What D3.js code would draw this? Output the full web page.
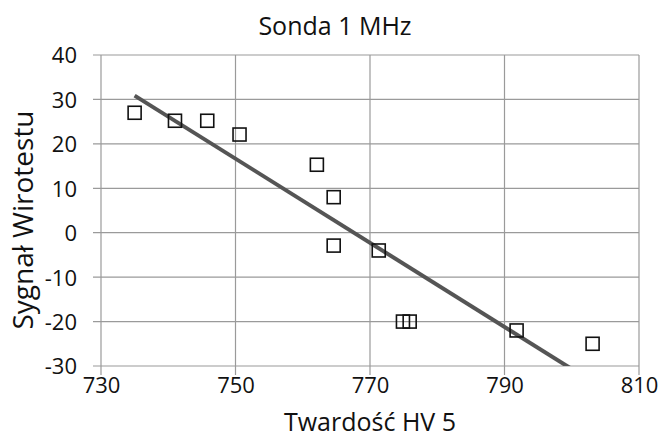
<!DOCTYPE html>
<html>
<head>
<meta charset="utf-8">
<script src="https://cdn.jsdelivr.net/npm/d3@7"></script>
<style>
  body { margin: 0; background: #fff; }
  text { font-family: "Open Sans", sans-serif; fill: #111; }
</style>
</head>
<body>
<div class="chart"></div>
<script>
// data
const hardness = [735, 741, 745.8, 750.6, 762.1, 764.6, 764.6, 771.3, 774.9, 775.9, 791.8, 803.1];
const signal   = [27, 25.2, 25.2, 22.1, 15.3, 8, -2.9, -4, -20, -20, -22, -25];
const xTicks = [730, 750, 770, 790, 810];
const yTicks = [-30, -20, -10, 0, 10, 20, 30, 40];

const W = 659, H = 441;
const margin = {top: 55, right: 20, bottom: 75, left: 101};
const width = 639 - margin.left;
const height = 366 - margin.top;

const svg = d3.select(".chart").append("svg")
  .attr("width", W)
  .attr("height", H);

const g = svg.append("g")
  .attr("transform", "translate(" + margin.left + "," + margin.top + ")");

const xScale = d3.scaleLinear().domain([730, 810]).range([0, width]);
const yScale = d3.scaleLinear().domain([-30, 40]).range([height, 0]);

// gridlines
g.append("g")
  .selectAll("line.hgrid")
  .data(yTicks)
  .join("line")
  .attr("class", "hgrid")
  .attr("x1", -8).attr("x2", width)
  .attr("y1", d => yScale(d)).attr("y2", d => yScale(d))
  .attr("stroke", "#9a9a9a")
  .attr("stroke-width", 1.2);

g.append("g")
  .selectAll("line.vgrid")
  .data(xTicks)
  .join("line")
  .attr("class", "vgrid")
  .attr("x1", d => xScale(d)).attr("x2", d => xScale(d))
  .attr("y1", 0).attr("y2", height + 9)
  .attr("stroke", "#9a9a9a")
  .attr("stroke-width", 1.2);

// tick labels (plain hyphen minus like the original)
const xAxis = d3.axisBottom(xScale).tickValues(xTicks).tickSize(0).tickPadding(27)
  .tickFormat(d => String(d));
g.append("g")
  .attr("class", "x-axis")
  .attr("transform", `translate(0, ${height})`)
  .call(xAxis)
  .call(a => a.select(".domain").remove())
  .selectAll("text")
  .attr("font-size", 22)
  .attr("dy", 0)
  .style("fill", "#111");

const yAxis = d3.axisLeft(yScale).tickValues(yTicks).tickSize(0).tickPadding(24)
  .tickFormat(d => String(d));
g.append("g")
  .attr("class", "y-axis")
  .call(yAxis)
  .call(a => a.select(".domain").remove())
  .selectAll("text")
  .attr("font-size", 22)
  .attr("dy", "0.36em")
  .style("fill", "#111");

svg.selectAll(".x-axis text, .y-axis text").attr("font-family", "Open Sans, sans-serif");

// linear trendline from the points
const mx = d3.mean(hardness), my = d3.mean(signal);
const sxy = d3.sum(hardness, (x, i) => (x - mx) * (signal[i] - my));
const sxx = d3.sum(hardness, x => (x - mx) * (x - mx));
const slope = sxy / sxx;
const icpt = my - slope * mx;
const x0 = d3.min(hardness), x1 = d3.max(hardness);

svg.append("clipPath").attr("id", "plotclip")
  .append("rect").attr("x", 0).attr("y", 0).attr("width", width).attr("height", height);

g.append("line")
  .attr("clip-path", "url(#plotclip)")
  .attr("x1", xScale(x0)).attr("y1", yScale(slope * x0 + icpt))
  .attr("x2", xScale(x1)).attr("y2", yScale(slope * x1 + icpt))
  .attr("stroke", "#555")
  .attr("stroke-width", 4);

// markers
const s = 13;
g.selectAll("rect.pt")
  .data(hardness)
  .join("rect")
  .attr("class", "pt")
  .attr("x", (d) => xScale(d) - s / 2)
  .attr("y", (d, i) => yScale(signal[i]) - s / 2)
  .attr("width", s).attr("height", s)
  .attr("fill", "none")
  .attr("stroke", "#111")
  .attr("stroke-width", 1.6);

// titles
svg.append("text")
  .attr("x", 335).attr("y", 35)
  .attr("text-anchor", "middle")
  .attr("font-size", 25)
  .text("Sonda 1 MHz");

svg.append("text")
  .attr("x", 370).attr("y", 431)
  .attr("text-anchor", "middle")
  .attr("font-size", 25)
  .text("Twardość HV 5");

svg.append("text")
  .attr("transform", "translate(33, 220) rotate(-90)")
  .attr("text-anchor", "middle")
  .attr("font-size", 28)
  .text("Sygnał Wirotestu");
</script>
</body>
</html>
